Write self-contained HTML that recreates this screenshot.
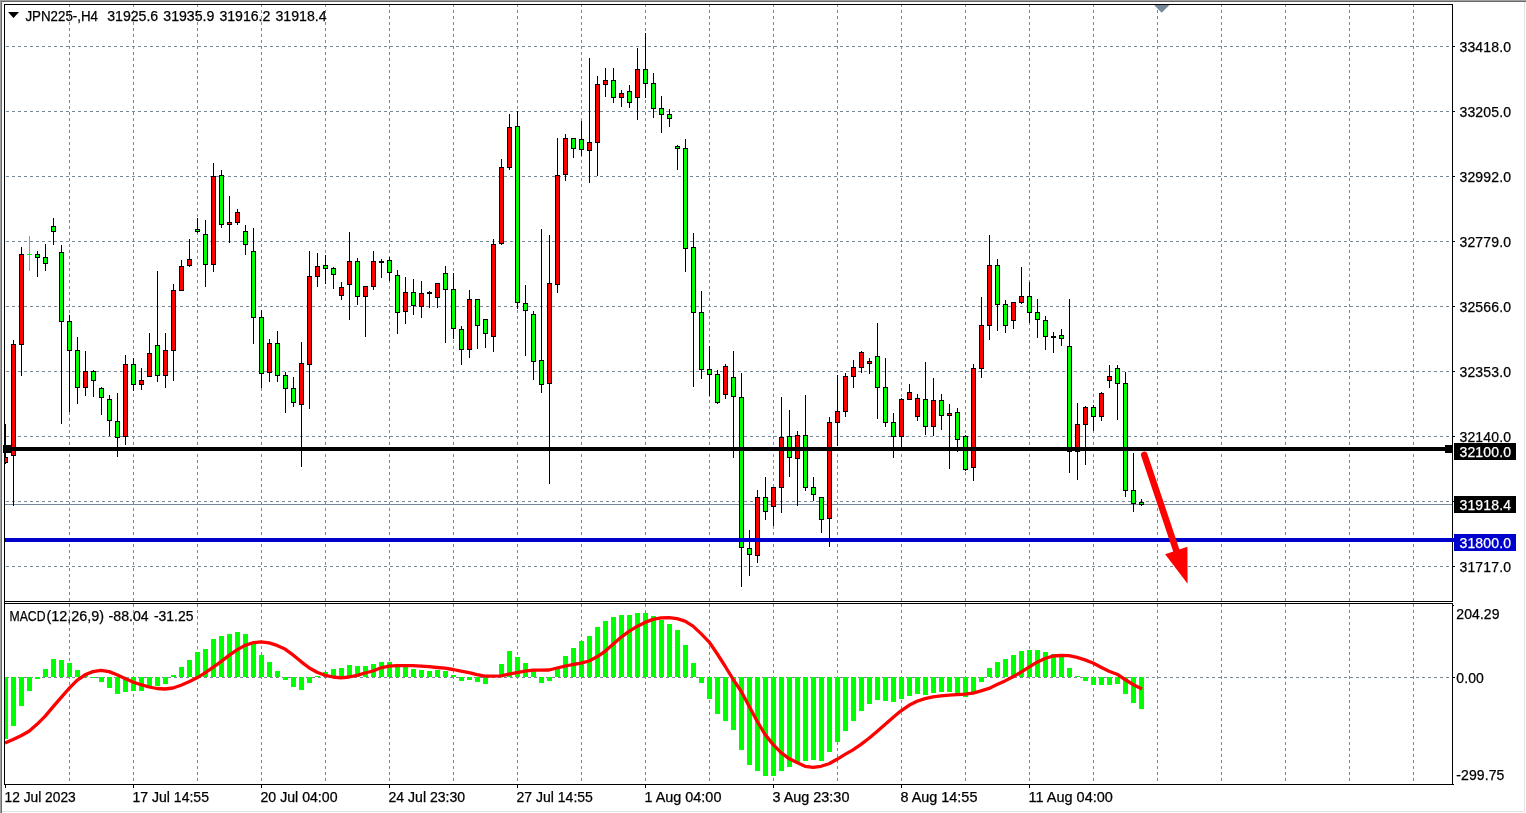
<!DOCTYPE html>
<html lang="en"><head><meta charset="utf-8"><title>JPN225-,H4</title>
<style>html,body{margin:0;padding:0;background:#fff;overflow:hidden}svg{display:block}text{font-family:"Liberation Sans",sans-serif;font-size:14px;fill:#000;stroke:#000;stroke-width:0.25px}</style></head><body>
<svg width="1526" height="813" viewBox="0 0 1526 813">
<rect width="1526" height="813" fill="#ffffff"/>
<g shape-rendering="crispEdges">
<rect x="0" y="0" width="1526" height="1" fill="#a0a0a0"/><rect x="0" y="1" width="1526" height="1" fill="#696969"/>
<rect x="0" y="0" width="1" height="813" fill="#a0a0a0"/><rect x="1" y="1" width="1" height="812" fill="#696969"/>
<rect x="1524" y="2" width="1" height="810" fill="#e3e3e3"/><rect x="2" y="811" width="1523" height="1" fill="#e3e3e3"/>
<g stroke="#778899" stroke-width="1" stroke-dasharray="3 3" fill="none">
<line x1="69.5" y1="4" x2="69.5" y2="784"/>
<line x1="133.5" y1="4" x2="133.5" y2="784"/>
<line x1="197.5" y1="4" x2="197.5" y2="784"/>
<line x1="261.5" y1="4" x2="261.5" y2="784"/>
<line x1="325.5" y1="4" x2="325.5" y2="784"/>
<line x1="389.5" y1="4" x2="389.5" y2="784"/>
<line x1="453.5" y1="4" x2="453.5" y2="784"/>
<line x1="517.5" y1="4" x2="517.5" y2="784"/>
<line x1="581.5" y1="4" x2="581.5" y2="784"/>
<line x1="645.5" y1="4" x2="645.5" y2="784"/>
<line x1="709.5" y1="4" x2="709.5" y2="784"/>
<line x1="773.5" y1="4" x2="773.5" y2="784"/>
<line x1="837.5" y1="4" x2="837.5" y2="784"/>
<line x1="901.5" y1="4" x2="901.5" y2="784"/>
<line x1="965.5" y1="4" x2="965.5" y2="784"/>
<line x1="1029.5" y1="4" x2="1029.5" y2="784"/>
<line x1="1093.5" y1="4" x2="1093.5" y2="784"/>
<line x1="1157.5" y1="4" x2="1157.5" y2="784"/>
<line x1="1221.5" y1="4" x2="1221.5" y2="784"/>
<line x1="1285.5" y1="4" x2="1285.5" y2="784"/>
<line x1="1349.5" y1="4" x2="1349.5" y2="784"/>
<line x1="1413.5" y1="4" x2="1413.5" y2="784"/>
<line x1="6" y1="46.5" x2="1452" y2="46.5"/>
<line x1="6" y1="111.5" x2="1452" y2="111.5"/>
<line x1="6" y1="176.5" x2="1452" y2="176.5"/>
<line x1="6" y1="241.5" x2="1452" y2="241.5"/>
<line x1="6" y1="306.5" x2="1452" y2="306.5"/>
<line x1="6" y1="371.5" x2="1452" y2="371.5"/>
<line x1="6" y1="436.5" x2="1452" y2="436.5"/>
<line x1="6" y1="501.5" x2="1452" y2="501.5"/>
<line x1="6" y1="566.5" x2="1452" y2="566.5"/>
<line x1="6" y1="677.5" x2="1452" y2="677.5"/>
</g>
<rect x="5" y="504" width="1447" height="1" fill="#778899"/>
<rect x="5" y="677" width="3" height="62" fill="#00ff00"/>
<rect x="11" y="677" width="5" height="49" fill="#00ff00"/>
<rect x="19" y="677" width="5" height="29" fill="#00ff00"/>
<rect x="27" y="677" width="5" height="14" fill="#00ff00"/>
<rect x="35" y="677" width="5" height="2" fill="#00ff00"/>
<rect x="43" y="669" width="5" height="8" fill="#00ff00"/>
<rect x="51" y="659" width="5" height="18" fill="#00ff00"/>
<rect x="59" y="660" width="5" height="17" fill="#00ff00"/>
<rect x="67" y="663" width="5" height="14" fill="#00ff00"/>
<rect x="75" y="670" width="5" height="7" fill="#00ff00"/>
<rect x="83" y="674" width="5" height="3" fill="#00ff00"/>
<rect x="91" y="677" width="5" height="1" fill="#00ff00"/>
<rect x="99" y="677" width="5" height="5" fill="#00ff00"/>
<rect x="107" y="677" width="5" height="11" fill="#00ff00"/>
<rect x="115" y="677" width="5" height="17" fill="#00ff00"/>
<rect x="123" y="677" width="5" height="15" fill="#00ff00"/>
<rect x="131" y="677" width="5" height="14" fill="#00ff00"/>
<rect x="139" y="677" width="5" height="14" fill="#00ff00"/>
<rect x="147" y="677" width="5" height="10" fill="#00ff00"/>
<rect x="155" y="677" width="5" height="9" fill="#00ff00"/>
<rect x="163" y="677" width="5" height="7" fill="#00ff00"/>
<rect x="171" y="675" width="5" height="2" fill="#00ff00"/>
<rect x="179" y="667" width="5" height="10" fill="#00ff00"/>
<rect x="187" y="660" width="5" height="17" fill="#00ff00"/>
<rect x="195" y="652" width="5" height="25" fill="#00ff00"/>
<rect x="203" y="649" width="5" height="28" fill="#00ff00"/>
<rect x="211" y="639" width="5" height="38" fill="#00ff00"/>
<rect x="219" y="636" width="5" height="41" fill="#00ff00"/>
<rect x="227" y="634" width="5" height="43" fill="#00ff00"/>
<rect x="235" y="632" width="5" height="45" fill="#00ff00"/>
<rect x="243" y="634" width="5" height="43" fill="#00ff00"/>
<rect x="251" y="643" width="5" height="34" fill="#00ff00"/>
<rect x="259" y="655" width="5" height="22" fill="#00ff00"/>
<rect x="267" y="662" width="5" height="15" fill="#00ff00"/>
<rect x="275" y="671" width="5" height="6" fill="#00ff00"/>
<rect x="283" y="677" width="5" height="3" fill="#00ff00"/>
<rect x="291" y="677" width="5" height="10" fill="#00ff00"/>
<rect x="299" y="677" width="5" height="13" fill="#00ff00"/>
<rect x="307" y="677" width="5" height="6" fill="#00ff00"/>
<rect x="315" y="676" width="5" height="1" fill="#00ff00"/>
<rect x="323" y="672" width="5" height="5" fill="#00ff00"/>
<rect x="331" y="669" width="5" height="8" fill="#00ff00"/>
<rect x="339" y="668" width="5" height="9" fill="#00ff00"/>
<rect x="347" y="665" width="5" height="12" fill="#00ff00"/>
<rect x="355" y="666" width="5" height="11" fill="#00ff00"/>
<rect x="363" y="666" width="5" height="11" fill="#00ff00"/>
<rect x="371" y="664" width="5" height="13" fill="#00ff00"/>
<rect x="379" y="662" width="5" height="15" fill="#00ff00"/>
<rect x="387" y="662" width="5" height="15" fill="#00ff00"/>
<rect x="395" y="666" width="5" height="11" fill="#00ff00"/>
<rect x="403" y="667" width="5" height="10" fill="#00ff00"/>
<rect x="411" y="669" width="5" height="8" fill="#00ff00"/>
<rect x="419" y="670" width="5" height="7" fill="#00ff00"/>
<rect x="427" y="671" width="5" height="6" fill="#00ff00"/>
<rect x="435" y="670" width="5" height="7" fill="#00ff00"/>
<rect x="443" y="671" width="5" height="6" fill="#00ff00"/>
<rect x="451" y="675" width="5" height="2" fill="#00ff00"/>
<rect x="459" y="677" width="5" height="4" fill="#00ff00"/>
<rect x="467" y="677" width="5" height="3" fill="#00ff00"/>
<rect x="475" y="677" width="5" height="5" fill="#00ff00"/>
<rect x="483" y="677" width="5" height="7" fill="#00ff00"/>
<rect x="499" y="664" width="5" height="13" fill="#00ff00"/>
<rect x="507" y="651" width="5" height="26" fill="#00ff00"/>
<rect x="515" y="657" width="5" height="20" fill="#00ff00"/>
<rect x="523" y="663" width="5" height="14" fill="#00ff00"/>
<rect x="531" y="671" width="5" height="6" fill="#00ff00"/>
<rect x="539" y="677" width="5" height="6" fill="#00ff00"/>
<rect x="547" y="677" width="5" height="4" fill="#00ff00"/>
<rect x="555" y="669" width="5" height="8" fill="#00ff00"/>
<rect x="563" y="656" width="5" height="21" fill="#00ff00"/>
<rect x="571" y="648" width="5" height="29" fill="#00ff00"/>
<rect x="579" y="641" width="5" height="36" fill="#00ff00"/>
<rect x="587" y="636" width="5" height="41" fill="#00ff00"/>
<rect x="595" y="627" width="5" height="50" fill="#00ff00"/>
<rect x="603" y="621" width="5" height="56" fill="#00ff00"/>
<rect x="611" y="617" width="5" height="60" fill="#00ff00"/>
<rect x="619" y="615" width="5" height="62" fill="#00ff00"/>
<rect x="627" y="615" width="5" height="62" fill="#00ff00"/>
<rect x="635" y="613" width="5" height="64" fill="#00ff00"/>
<rect x="643" y="613" width="5" height="64" fill="#00ff00"/>
<rect x="651" y="616" width="5" height="61" fill="#00ff00"/>
<rect x="659" y="620" width="5" height="57" fill="#00ff00"/>
<rect x="667" y="624" width="5" height="53" fill="#00ff00"/>
<rect x="675" y="630" width="5" height="47" fill="#00ff00"/>
<rect x="683" y="645" width="5" height="32" fill="#00ff00"/>
<rect x="691" y="663" width="5" height="14" fill="#00ff00"/>
<rect x="699" y="677" width="5" height="6" fill="#00ff00"/>
<rect x="707" y="677" width="5" height="22" fill="#00ff00"/>
<rect x="715" y="677" width="5" height="37" fill="#00ff00"/>
<rect x="723" y="677" width="5" height="44" fill="#00ff00"/>
<rect x="731" y="677" width="5" height="53" fill="#00ff00"/>
<rect x="739" y="677" width="5" height="73" fill="#00ff00"/>
<rect x="747" y="677" width="5" height="88" fill="#00ff00"/>
<rect x="755" y="677" width="5" height="94" fill="#00ff00"/>
<rect x="763" y="677" width="5" height="99" fill="#00ff00"/>
<rect x="771" y="677" width="5" height="99" fill="#00ff00"/>
<rect x="779" y="677" width="5" height="94" fill="#00ff00"/>
<rect x="787" y="677" width="5" height="90" fill="#00ff00"/>
<rect x="795" y="677" width="5" height="86" fill="#00ff00"/>
<rect x="803" y="677" width="5" height="84" fill="#00ff00"/>
<rect x="811" y="677" width="5" height="83" fill="#00ff00"/>
<rect x="819" y="677" width="5" height="84" fill="#00ff00"/>
<rect x="827" y="677" width="5" height="75" fill="#00ff00"/>
<rect x="835" y="677" width="5" height="65" fill="#00ff00"/>
<rect x="843" y="677" width="5" height="54" fill="#00ff00"/>
<rect x="851" y="677" width="5" height="44" fill="#00ff00"/>
<rect x="859" y="677" width="5" height="34" fill="#00ff00"/>
<rect x="867" y="677" width="5" height="27" fill="#00ff00"/>
<rect x="875" y="677" width="5" height="23" fill="#00ff00"/>
<rect x="883" y="677" width="5" height="24" fill="#00ff00"/>
<rect x="891" y="677" width="5" height="25" fill="#00ff00"/>
<rect x="899" y="677" width="5" height="22" fill="#00ff00"/>
<rect x="907" y="677" width="5" height="19" fill="#00ff00"/>
<rect x="915" y="677" width="5" height="17" fill="#00ff00"/>
<rect x="923" y="677" width="5" height="18" fill="#00ff00"/>
<rect x="931" y="677" width="5" height="16" fill="#00ff00"/>
<rect x="939" y="677" width="5" height="15" fill="#00ff00"/>
<rect x="947" y="677" width="5" height="15" fill="#00ff00"/>
<rect x="955" y="677" width="5" height="17" fill="#00ff00"/>
<rect x="963" y="677" width="5" height="20" fill="#00ff00"/>
<rect x="971" y="677" width="5" height="15" fill="#00ff00"/>
<rect x="979" y="677" width="5" height="5" fill="#00ff00"/>
<rect x="987" y="668" width="5" height="9" fill="#00ff00"/>
<rect x="995" y="662" width="5" height="15" fill="#00ff00"/>
<rect x="1003" y="659" width="5" height="18" fill="#00ff00"/>
<rect x="1011" y="655" width="5" height="22" fill="#00ff00"/>
<rect x="1019" y="651" width="5" height="26" fill="#00ff00"/>
<rect x="1027" y="650" width="5" height="27" fill="#00ff00"/>
<rect x="1035" y="650" width="5" height="27" fill="#00ff00"/>
<rect x="1043" y="652" width="5" height="25" fill="#00ff00"/>
<rect x="1051" y="654" width="5" height="23" fill="#00ff00"/>
<rect x="1059" y="656" width="5" height="21" fill="#00ff00"/>
<rect x="1067" y="668" width="5" height="9" fill="#00ff00"/>
<rect x="1075" y="676" width="5" height="1" fill="#00ff00"/>
<rect x="1083" y="677" width="5" height="4" fill="#00ff00"/>
<rect x="1091" y="677" width="5" height="8" fill="#00ff00"/>
<rect x="1099" y="677" width="5" height="8" fill="#00ff00"/>
<rect x="1107" y="677" width="5" height="8" fill="#00ff00"/>
<rect x="1115" y="677" width="5" height="7" fill="#00ff00"/>
<rect x="1123" y="677" width="5" height="17" fill="#00ff00"/>
<rect x="1131" y="677" width="5" height="26" fill="#00ff00"/>
<rect x="1139" y="677" width="5" height="32" fill="#00ff00"/>
<rect x="5" y="424" width="1" height="40" fill="#000"/>
<rect x="5" y="457" width="3" height="6" fill="#000"/>
<rect x="5" y="458" width="2" height="4" fill="#ff0000"/>
<rect x="13" y="340" width="1" height="166" fill="#000"/>
<rect x="11" y="344" width="5" height="112" fill="#000"/>
<rect x="12" y="345" width="3" height="110" fill="#ff0000"/>
<rect x="21" y="247" width="1" height="129" fill="#000"/>
<rect x="19" y="254" width="5" height="91" fill="#000"/>
<rect x="20" y="255" width="3" height="89" fill="#ff0000"/>
<rect x="37" y="251" width="1" height="26" fill="#000"/>
<rect x="35" y="254" width="5" height="4" fill="#000"/>
<rect x="36" y="255" width="3" height="2" fill="#00ff00"/>
<rect x="45" y="244" width="1" height="27" fill="#000"/>
<rect x="43" y="257" width="5" height="7" fill="#000"/>
<rect x="44" y="258" width="3" height="5" fill="#00ff00"/>
<rect x="53" y="218" width="1" height="27" fill="#000"/>
<rect x="51" y="226" width="5" height="6" fill="#000"/>
<rect x="52" y="227" width="3" height="4" fill="#00ff00"/>
<rect x="61" y="245" width="1" height="179" fill="#000"/>
<rect x="59" y="252" width="5" height="70" fill="#000"/>
<rect x="60" y="253" width="3" height="68" fill="#00ff00"/>
<rect x="69" y="315" width="1" height="97" fill="#000"/>
<rect x="67" y="321" width="5" height="30" fill="#000"/>
<rect x="68" y="322" width="3" height="28" fill="#00ff00"/>
<rect x="77" y="337" width="1" height="67" fill="#000"/>
<rect x="75" y="350" width="5" height="38" fill="#000"/>
<rect x="76" y="351" width="3" height="36" fill="#00ff00"/>
<rect x="85" y="351" width="1" height="45" fill="#000"/>
<rect x="83" y="371" width="5" height="17" fill="#000"/>
<rect x="84" y="372" width="3" height="15" fill="#ff0000"/>
<rect x="93" y="370" width="1" height="27" fill="#000"/>
<rect x="91" y="371" width="5" height="10" fill="#000"/>
<rect x="92" y="372" width="3" height="8" fill="#00ff00"/>
<rect x="101" y="387" width="1" height="28" fill="#000"/>
<rect x="99" y="388" width="5" height="10" fill="#000"/>
<rect x="100" y="389" width="3" height="8" fill="#00ff00"/>
<rect x="109" y="395" width="1" height="41" fill="#000"/>
<rect x="107" y="399" width="5" height="22" fill="#000"/>
<rect x="108" y="400" width="3" height="20" fill="#00ff00"/>
<rect x="117" y="393" width="1" height="64" fill="#000"/>
<rect x="115" y="421" width="5" height="17" fill="#000"/>
<rect x="116" y="422" width="3" height="15" fill="#00ff00"/>
<rect x="125" y="355" width="1" height="90" fill="#000"/>
<rect x="123" y="364" width="5" height="73" fill="#000"/>
<rect x="124" y="365" width="3" height="71" fill="#ff0000"/>
<rect x="133" y="358" width="1" height="33" fill="#000"/>
<rect x="131" y="364" width="5" height="21" fill="#000"/>
<rect x="132" y="365" width="3" height="19" fill="#00ff00"/>
<rect x="141" y="368" width="1" height="22" fill="#000"/>
<rect x="139" y="380" width="5" height="5" fill="#000"/>
<rect x="140" y="381" width="3" height="3" fill="#ff0000"/>
<rect x="149" y="333" width="1" height="44" fill="#000"/>
<rect x="147" y="353" width="5" height="24" fill="#000"/>
<rect x="148" y="354" width="3" height="22" fill="#ff0000"/>
<rect x="157" y="271" width="1" height="111" fill="#000"/>
<rect x="155" y="345" width="5" height="31" fill="#000"/>
<rect x="156" y="346" width="3" height="29" fill="#00ff00"/>
<rect x="165" y="333" width="1" height="55" fill="#000"/>
<rect x="163" y="350" width="5" height="26" fill="#000"/>
<rect x="164" y="351" width="3" height="24" fill="#ff0000"/>
<rect x="173" y="284" width="1" height="97" fill="#000"/>
<rect x="171" y="290" width="5" height="61" fill="#000"/>
<rect x="172" y="291" width="3" height="59" fill="#ff0000"/>
<rect x="181" y="260" width="1" height="31" fill="#000"/>
<rect x="179" y="266" width="5" height="25" fill="#000"/>
<rect x="180" y="267" width="3" height="23" fill="#ff0000"/>
<rect x="189" y="239" width="1" height="28" fill="#000"/>
<rect x="187" y="259" width="5" height="7" fill="#000"/>
<rect x="188" y="260" width="3" height="5" fill="#ff0000"/>
<rect x="197" y="218" width="1" height="15" fill="#000"/>
<rect x="195" y="229" width="5" height="3" fill="#000"/>
<rect x="196" y="230" width="3" height="1" fill="#00ff00"/>
<rect x="205" y="220" width="1" height="67" fill="#000"/>
<rect x="203" y="234" width="5" height="31" fill="#000"/>
<rect x="204" y="235" width="3" height="29" fill="#00ff00"/>
<rect x="213" y="163" width="1" height="109" fill="#000"/>
<rect x="211" y="176" width="5" height="89" fill="#000"/>
<rect x="212" y="177" width="3" height="87" fill="#ff0000"/>
<rect x="221" y="170" width="1" height="58" fill="#000"/>
<rect x="219" y="175" width="5" height="50" fill="#000"/>
<rect x="220" y="176" width="3" height="48" fill="#00ff00"/>
<rect x="229" y="196" width="1" height="47" fill="#000"/>
<rect x="227" y="222" width="5" height="3" fill="#000"/>
<rect x="228" y="223" width="3" height="1" fill="#ff0000"/>
<rect x="237" y="209" width="1" height="16" fill="#000"/>
<rect x="235" y="212" width="5" height="11" fill="#000"/>
<rect x="236" y="213" width="3" height="9" fill="#ff0000"/>
<rect x="245" y="225" width="1" height="30" fill="#000"/>
<rect x="243" y="231" width="5" height="14" fill="#000"/>
<rect x="244" y="232" width="3" height="12" fill="#00ff00"/>
<rect x="253" y="228" width="1" height="116" fill="#000"/>
<rect x="251" y="251" width="5" height="67" fill="#000"/>
<rect x="252" y="252" width="3" height="65" fill="#00ff00"/>
<rect x="261" y="310" width="1" height="78" fill="#000"/>
<rect x="259" y="317" width="5" height="57" fill="#000"/>
<rect x="260" y="318" width="3" height="55" fill="#00ff00"/>
<rect x="269" y="339" width="1" height="43" fill="#000"/>
<rect x="267" y="343" width="5" height="30" fill="#000"/>
<rect x="268" y="344" width="3" height="28" fill="#ff0000"/>
<rect x="277" y="331" width="1" height="51" fill="#000"/>
<rect x="275" y="343" width="5" height="33" fill="#000"/>
<rect x="276" y="344" width="3" height="31" fill="#00ff00"/>
<rect x="285" y="372" width="1" height="41" fill="#000"/>
<rect x="283" y="375" width="5" height="14" fill="#000"/>
<rect x="284" y="376" width="3" height="12" fill="#00ff00"/>
<rect x="293" y="377" width="1" height="30" fill="#000"/>
<rect x="291" y="388" width="5" height="15" fill="#000"/>
<rect x="292" y="389" width="3" height="13" fill="#00ff00"/>
<rect x="301" y="342" width="1" height="125" fill="#000"/>
<rect x="299" y="363" width="5" height="42" fill="#000"/>
<rect x="300" y="364" width="3" height="40" fill="#ff0000"/>
<rect x="309" y="251" width="1" height="158" fill="#000"/>
<rect x="307" y="276" width="5" height="89" fill="#000"/>
<rect x="308" y="277" width="3" height="87" fill="#ff0000"/>
<rect x="317" y="253" width="1" height="34" fill="#000"/>
<rect x="315" y="266" width="5" height="11" fill="#000"/>
<rect x="316" y="267" width="3" height="9" fill="#ff0000"/>
<rect x="325" y="255" width="1" height="29" fill="#000"/>
<rect x="323" y="265" width="5" height="4" fill="#000"/>
<rect x="324" y="266" width="3" height="2" fill="#00ff00"/>
<rect x="333" y="267" width="1" height="22" fill="#000"/>
<rect x="331" y="268" width="5" height="7" fill="#000"/>
<rect x="332" y="269" width="3" height="5" fill="#00ff00"/>
<rect x="341" y="282" width="1" height="18" fill="#000"/>
<rect x="339" y="287" width="5" height="9" fill="#000"/>
<rect x="340" y="288" width="3" height="7" fill="#ff0000"/>
<rect x="349" y="232" width="1" height="88" fill="#000"/>
<rect x="347" y="261" width="5" height="24" fill="#000"/>
<rect x="348" y="262" width="3" height="22" fill="#ff0000"/>
<rect x="357" y="258" width="1" height="47" fill="#000"/>
<rect x="355" y="261" width="5" height="36" fill="#000"/>
<rect x="356" y="262" width="3" height="34" fill="#00ff00"/>
<rect x="365" y="286" width="1" height="51" fill="#000"/>
<rect x="363" y="286" width="5" height="11" fill="#000"/>
<rect x="364" y="287" width="3" height="9" fill="#ff0000"/>
<rect x="373" y="251" width="1" height="39" fill="#000"/>
<rect x="371" y="261" width="5" height="26" fill="#000"/>
<rect x="372" y="262" width="3" height="24" fill="#ff0000"/>
<rect x="389" y="257" width="1" height="24" fill="#000"/>
<rect x="387" y="260" width="5" height="13" fill="#000"/>
<rect x="388" y="261" width="3" height="11" fill="#00ff00"/>
<rect x="397" y="270" width="1" height="64" fill="#000"/>
<rect x="395" y="275" width="5" height="38" fill="#000"/>
<rect x="396" y="276" width="3" height="36" fill="#00ff00"/>
<rect x="405" y="277" width="1" height="47" fill="#000"/>
<rect x="403" y="292" width="5" height="20" fill="#000"/>
<rect x="404" y="293" width="3" height="18" fill="#ff0000"/>
<rect x="413" y="279" width="1" height="36" fill="#000"/>
<rect x="411" y="292" width="5" height="14" fill="#000"/>
<rect x="412" y="293" width="3" height="12" fill="#00ff00"/>
<rect x="421" y="281" width="1" height="37" fill="#000"/>
<rect x="419" y="293" width="5" height="14" fill="#000"/>
<rect x="420" y="294" width="3" height="12" fill="#ff0000"/>
<rect x="437" y="283" width="1" height="25" fill="#000"/>
<rect x="435" y="283" width="5" height="15" fill="#000"/>
<rect x="436" y="284" width="3" height="13" fill="#ff0000"/>
<rect x="445" y="266" width="1" height="77" fill="#000"/>
<rect x="443" y="273" width="5" height="17" fill="#000"/>
<rect x="444" y="274" width="3" height="15" fill="#00ff00"/>
<rect x="453" y="273" width="1" height="66" fill="#000"/>
<rect x="451" y="289" width="5" height="40" fill="#000"/>
<rect x="452" y="290" width="3" height="38" fill="#00ff00"/>
<rect x="461" y="326" width="1" height="39" fill="#000"/>
<rect x="459" y="329" width="5" height="21" fill="#000"/>
<rect x="460" y="330" width="3" height="19" fill="#00ff00"/>
<rect x="469" y="290" width="1" height="68" fill="#000"/>
<rect x="467" y="299" width="5" height="51" fill="#000"/>
<rect x="468" y="300" width="3" height="49" fill="#ff0000"/>
<rect x="477" y="299" width="1" height="50" fill="#000"/>
<rect x="475" y="299" width="5" height="27" fill="#000"/>
<rect x="476" y="300" width="3" height="25" fill="#00ff00"/>
<rect x="485" y="319" width="1" height="29" fill="#000"/>
<rect x="483" y="319" width="5" height="15" fill="#000"/>
<rect x="484" y="320" width="3" height="13" fill="#00ff00"/>
<rect x="493" y="239" width="1" height="113" fill="#000"/>
<rect x="491" y="244" width="5" height="93" fill="#000"/>
<rect x="492" y="245" width="3" height="91" fill="#ff0000"/>
<rect x="501" y="159" width="1" height="86" fill="#000"/>
<rect x="499" y="167" width="5" height="77" fill="#000"/>
<rect x="500" y="168" width="3" height="75" fill="#ff0000"/>
<rect x="509" y="114" width="1" height="56" fill="#000"/>
<rect x="507" y="127" width="5" height="41" fill="#000"/>
<rect x="508" y="128" width="3" height="39" fill="#ff0000"/>
<rect x="517" y="111" width="1" height="198" fill="#000"/>
<rect x="515" y="126" width="5" height="177" fill="#000"/>
<rect x="516" y="127" width="3" height="175" fill="#00ff00"/>
<rect x="525" y="285" width="1" height="71" fill="#000"/>
<rect x="523" y="303" width="5" height="8" fill="#000"/>
<rect x="524" y="304" width="3" height="6" fill="#00ff00"/>
<rect x="533" y="311" width="1" height="69" fill="#000"/>
<rect x="531" y="314" width="5" height="48" fill="#000"/>
<rect x="532" y="315" width="3" height="46" fill="#00ff00"/>
<rect x="541" y="229" width="1" height="164" fill="#000"/>
<rect x="539" y="360" width="5" height="25" fill="#000"/>
<rect x="540" y="361" width="3" height="23" fill="#00ff00"/>
<rect x="549" y="235" width="1" height="249" fill="#000"/>
<rect x="547" y="283" width="5" height="101" fill="#000"/>
<rect x="548" y="284" width="3" height="99" fill="#ff0000"/>
<rect x="557" y="138" width="1" height="155" fill="#000"/>
<rect x="555" y="175" width="5" height="110" fill="#000"/>
<rect x="556" y="176" width="3" height="108" fill="#ff0000"/>
<rect x="565" y="134" width="1" height="47" fill="#000"/>
<rect x="563" y="138" width="5" height="37" fill="#000"/>
<rect x="564" y="139" width="3" height="35" fill="#ff0000"/>
<rect x="573" y="138" width="1" height="20" fill="#000"/>
<rect x="571" y="138" width="5" height="11" fill="#000"/>
<rect x="572" y="139" width="3" height="9" fill="#00ff00"/>
<rect x="581" y="121" width="1" height="35" fill="#000"/>
<rect x="579" y="139" width="5" height="11" fill="#000"/>
<rect x="580" y="140" width="3" height="9" fill="#00ff00"/>
<rect x="589" y="58" width="1" height="125" fill="#000"/>
<rect x="587" y="142" width="5" height="9" fill="#000"/>
<rect x="588" y="143" width="3" height="7" fill="#ff0000"/>
<rect x="597" y="76" width="1" height="100" fill="#000"/>
<rect x="595" y="84" width="5" height="59" fill="#000"/>
<rect x="596" y="85" width="3" height="57" fill="#ff0000"/>
<rect x="605" y="68" width="1" height="29" fill="#000"/>
<rect x="603" y="80" width="5" height="5" fill="#000"/>
<rect x="604" y="81" width="3" height="3" fill="#ff0000"/>
<rect x="613" y="68" width="1" height="35" fill="#000"/>
<rect x="611" y="80" width="5" height="18" fill="#000"/>
<rect x="612" y="81" width="3" height="16" fill="#00ff00"/>
<rect x="621" y="90" width="1" height="17" fill="#000"/>
<rect x="619" y="93" width="5" height="5" fill="#000"/>
<rect x="620" y="94" width="3" height="3" fill="#ff0000"/>
<rect x="629" y="85" width="1" height="23" fill="#000"/>
<rect x="627" y="91" width="5" height="12" fill="#000"/>
<rect x="628" y="92" width="3" height="10" fill="#00ff00"/>
<rect x="637" y="48" width="1" height="72" fill="#000"/>
<rect x="635" y="69" width="5" height="29" fill="#000"/>
<rect x="636" y="70" width="3" height="27" fill="#ff0000"/>
<rect x="645" y="33" width="1" height="65" fill="#000"/>
<rect x="643" y="69" width="5" height="15" fill="#000"/>
<rect x="644" y="70" width="3" height="13" fill="#00ff00"/>
<rect x="653" y="73" width="1" height="45" fill="#000"/>
<rect x="651" y="83" width="5" height="26" fill="#000"/>
<rect x="652" y="84" width="3" height="24" fill="#00ff00"/>
<rect x="661" y="96" width="1" height="37" fill="#000"/>
<rect x="659" y="108" width="5" height="7" fill="#000"/>
<rect x="660" y="109" width="3" height="5" fill="#00ff00"/>
<rect x="669" y="109" width="1" height="18" fill="#000"/>
<rect x="667" y="114" width="5" height="5" fill="#000"/>
<rect x="668" y="115" width="3" height="3" fill="#00ff00"/>
<rect x="677" y="145" width="1" height="25" fill="#000"/>
<rect x="675" y="146" width="5" height="3" fill="#000"/>
<rect x="676" y="147" width="3" height="1" fill="#00ff00"/>
<rect x="685" y="139" width="1" height="133" fill="#000"/>
<rect x="683" y="148" width="5" height="101" fill="#000"/>
<rect x="684" y="149" width="3" height="99" fill="#00ff00"/>
<rect x="693" y="233" width="1" height="154" fill="#000"/>
<rect x="691" y="247" width="5" height="66" fill="#000"/>
<rect x="692" y="248" width="3" height="64" fill="#00ff00"/>
<rect x="701" y="291" width="1" height="88" fill="#000"/>
<rect x="699" y="312" width="5" height="58" fill="#000"/>
<rect x="700" y="313" width="3" height="56" fill="#00ff00"/>
<rect x="709" y="346" width="1" height="50" fill="#000"/>
<rect x="707" y="369" width="5" height="6" fill="#000"/>
<rect x="708" y="370" width="3" height="4" fill="#00ff00"/>
<rect x="717" y="370" width="1" height="34" fill="#000"/>
<rect x="715" y="374" width="5" height="29" fill="#000"/>
<rect x="716" y="375" width="3" height="27" fill="#00ff00"/>
<rect x="725" y="364" width="1" height="35" fill="#000"/>
<rect x="723" y="366" width="5" height="29" fill="#000"/>
<rect x="724" y="367" width="3" height="27" fill="#ff0000"/>
<rect x="733" y="351" width="1" height="107" fill="#000"/>
<rect x="731" y="377" width="5" height="20" fill="#000"/>
<rect x="732" y="378" width="3" height="18" fill="#00ff00"/>
<rect x="741" y="373" width="1" height="214" fill="#000"/>
<rect x="739" y="397" width="5" height="151" fill="#000"/>
<rect x="740" y="398" width="3" height="149" fill="#00ff00"/>
<rect x="749" y="530" width="1" height="46" fill="#000"/>
<rect x="747" y="548" width="5" height="7" fill="#000"/>
<rect x="748" y="549" width="3" height="5" fill="#00ff00"/>
<rect x="757" y="490" width="1" height="73" fill="#000"/>
<rect x="755" y="497" width="5" height="59" fill="#000"/>
<rect x="756" y="498" width="3" height="57" fill="#ff0000"/>
<rect x="765" y="477" width="1" height="43" fill="#000"/>
<rect x="763" y="497" width="5" height="15" fill="#000"/>
<rect x="764" y="498" width="3" height="13" fill="#00ff00"/>
<rect x="773" y="487" width="1" height="39" fill="#000"/>
<rect x="771" y="487" width="5" height="20" fill="#000"/>
<rect x="772" y="488" width="3" height="18" fill="#ff0000"/>
<rect x="781" y="397" width="1" height="116" fill="#000"/>
<rect x="779" y="437" width="5" height="51" fill="#000"/>
<rect x="780" y="438" width="3" height="49" fill="#ff0000"/>
<rect x="789" y="410" width="1" height="67" fill="#000"/>
<rect x="787" y="436" width="5" height="22" fill="#000"/>
<rect x="788" y="437" width="3" height="20" fill="#00ff00"/>
<rect x="797" y="431" width="1" height="75" fill="#000"/>
<rect x="795" y="435" width="5" height="24" fill="#000"/>
<rect x="796" y="436" width="3" height="22" fill="#ff0000"/>
<rect x="805" y="395" width="1" height="96" fill="#000"/>
<rect x="803" y="435" width="5" height="53" fill="#000"/>
<rect x="804" y="436" width="3" height="51" fill="#00ff00"/>
<rect x="813" y="477" width="1" height="24" fill="#000"/>
<rect x="811" y="487" width="5" height="8" fill="#000"/>
<rect x="812" y="488" width="3" height="6" fill="#00ff00"/>
<rect x="821" y="497" width="1" height="36" fill="#000"/>
<rect x="819" y="497" width="5" height="23" fill="#000"/>
<rect x="820" y="498" width="3" height="21" fill="#00ff00"/>
<rect x="829" y="417" width="1" height="130" fill="#000"/>
<rect x="827" y="422" width="5" height="97" fill="#000"/>
<rect x="828" y="423" width="3" height="95" fill="#ff0000"/>
<rect x="837" y="375" width="1" height="71" fill="#000"/>
<rect x="835" y="411" width="5" height="12" fill="#000"/>
<rect x="836" y="412" width="3" height="10" fill="#ff0000"/>
<rect x="845" y="373" width="1" height="44" fill="#000"/>
<rect x="843" y="376" width="5" height="36" fill="#000"/>
<rect x="844" y="377" width="3" height="34" fill="#ff0000"/>
<rect x="853" y="360" width="1" height="28" fill="#000"/>
<rect x="851" y="367" width="5" height="10" fill="#000"/>
<rect x="852" y="368" width="3" height="8" fill="#ff0000"/>
<rect x="861" y="351" width="1" height="22" fill="#000"/>
<rect x="859" y="352" width="5" height="16" fill="#000"/>
<rect x="860" y="353" width="3" height="14" fill="#ff0000"/>
<rect x="869" y="358" width="1" height="16" fill="#000"/>
<rect x="867" y="361" width="5" height="3" fill="#000"/>
<rect x="868" y="362" width="3" height="1" fill="#ff0000"/>
<rect x="877" y="323" width="1" height="96" fill="#000"/>
<rect x="875" y="356" width="5" height="32" fill="#000"/>
<rect x="876" y="357" width="3" height="30" fill="#00ff00"/>
<rect x="885" y="358" width="1" height="69" fill="#000"/>
<rect x="883" y="387" width="5" height="36" fill="#000"/>
<rect x="884" y="388" width="3" height="34" fill="#00ff00"/>
<rect x="893" y="413" width="1" height="45" fill="#000"/>
<rect x="891" y="422" width="5" height="15" fill="#000"/>
<rect x="892" y="423" width="3" height="13" fill="#00ff00"/>
<rect x="901" y="398" width="1" height="49" fill="#000"/>
<rect x="899" y="399" width="5" height="38" fill="#000"/>
<rect x="900" y="400" width="3" height="36" fill="#ff0000"/>
<rect x="909" y="384" width="1" height="16" fill="#000"/>
<rect x="907" y="392" width="5" height="8" fill="#000"/>
<rect x="908" y="393" width="3" height="6" fill="#ff0000"/>
<rect x="917" y="394" width="1" height="27" fill="#000"/>
<rect x="915" y="398" width="5" height="19" fill="#000"/>
<rect x="916" y="399" width="3" height="17" fill="#ff0000"/>
<rect x="925" y="362" width="1" height="73" fill="#000"/>
<rect x="923" y="399" width="5" height="28" fill="#000"/>
<rect x="924" y="400" width="3" height="26" fill="#00ff00"/>
<rect x="933" y="378" width="1" height="58" fill="#000"/>
<rect x="931" y="400" width="5" height="27" fill="#000"/>
<rect x="932" y="401" width="3" height="25" fill="#ff0000"/>
<rect x="941" y="394" width="1" height="36" fill="#000"/>
<rect x="939" y="400" width="5" height="16" fill="#000"/>
<rect x="940" y="401" width="3" height="14" fill="#00ff00"/>
<rect x="949" y="404" width="1" height="65" fill="#000"/>
<rect x="947" y="413" width="5" height="3" fill="#000"/>
<rect x="948" y="414" width="3" height="1" fill="#ff0000"/>
<rect x="957" y="408" width="1" height="44" fill="#000"/>
<rect x="955" y="412" width="5" height="28" fill="#000"/>
<rect x="956" y="413" width="3" height="26" fill="#00ff00"/>
<rect x="965" y="435" width="1" height="36" fill="#000"/>
<rect x="963" y="436" width="5" height="34" fill="#000"/>
<rect x="964" y="437" width="3" height="32" fill="#00ff00"/>
<rect x="973" y="364" width="1" height="117" fill="#000"/>
<rect x="971" y="368" width="5" height="100" fill="#000"/>
<rect x="972" y="369" width="3" height="98" fill="#ff0000"/>
<rect x="981" y="297" width="1" height="81" fill="#000"/>
<rect x="979" y="325" width="5" height="44" fill="#000"/>
<rect x="980" y="326" width="3" height="42" fill="#ff0000"/>
<rect x="989" y="235" width="1" height="105" fill="#000"/>
<rect x="987" y="265" width="5" height="61" fill="#000"/>
<rect x="988" y="266" width="3" height="59" fill="#ff0000"/>
<rect x="997" y="259" width="1" height="72" fill="#000"/>
<rect x="995" y="265" width="5" height="40" fill="#000"/>
<rect x="996" y="266" width="3" height="38" fill="#00ff00"/>
<rect x="1005" y="300" width="1" height="33" fill="#000"/>
<rect x="1003" y="304" width="5" height="22" fill="#000"/>
<rect x="1004" y="305" width="3" height="20" fill="#00ff00"/>
<rect x="1013" y="302" width="1" height="27" fill="#000"/>
<rect x="1011" y="302" width="5" height="19" fill="#000"/>
<rect x="1012" y="303" width="3" height="17" fill="#ff0000"/>
<rect x="1021" y="267" width="1" height="37" fill="#000"/>
<rect x="1019" y="296" width="5" height="7" fill="#000"/>
<rect x="1020" y="297" width="3" height="5" fill="#ff0000"/>
<rect x="1029" y="282" width="1" height="41" fill="#000"/>
<rect x="1027" y="296" width="5" height="17" fill="#000"/>
<rect x="1028" y="297" width="3" height="15" fill="#00ff00"/>
<rect x="1037" y="299" width="1" height="39" fill="#000"/>
<rect x="1035" y="312" width="5" height="8" fill="#000"/>
<rect x="1036" y="313" width="3" height="6" fill="#00ff00"/>
<rect x="1045" y="316" width="1" height="34" fill="#000"/>
<rect x="1043" y="320" width="5" height="17" fill="#000"/>
<rect x="1044" y="321" width="3" height="15" fill="#00ff00"/>
<rect x="1061" y="329" width="1" height="17" fill="#000"/>
<rect x="1059" y="335" width="5" height="4" fill="#000"/>
<rect x="1060" y="336" width="3" height="2" fill="#00ff00"/>
<rect x="1069" y="299" width="1" height="174" fill="#000"/>
<rect x="1067" y="346" width="5" height="106" fill="#000"/>
<rect x="1068" y="347" width="3" height="104" fill="#00ff00"/>
<rect x="1077" y="403" width="1" height="77" fill="#000"/>
<rect x="1075" y="424" width="5" height="28" fill="#000"/>
<rect x="1076" y="425" width="3" height="26" fill="#ff0000"/>
<rect x="1085" y="406" width="1" height="59" fill="#000"/>
<rect x="1083" y="407" width="5" height="18" fill="#000"/>
<rect x="1084" y="408" width="3" height="16" fill="#ff0000"/>
<rect x="1093" y="405" width="1" height="26" fill="#000"/>
<rect x="1091" y="407" width="5" height="10" fill="#000"/>
<rect x="1092" y="408" width="3" height="8" fill="#00ff00"/>
<rect x="1101" y="392" width="1" height="29" fill="#000"/>
<rect x="1099" y="393" width="5" height="24" fill="#000"/>
<rect x="1100" y="394" width="3" height="22" fill="#ff0000"/>
<rect x="1109" y="365" width="1" height="23" fill="#000"/>
<rect x="1107" y="376" width="5" height="5" fill="#000"/>
<rect x="1108" y="377" width="3" height="3" fill="#ff0000"/>
<rect x="1117" y="365" width="1" height="55" fill="#000"/>
<rect x="1115" y="368" width="5" height="16" fill="#000"/>
<rect x="1116" y="369" width="3" height="14" fill="#00ff00"/>
<rect x="1125" y="372" width="1" height="125" fill="#000"/>
<rect x="1123" y="383" width="5" height="108" fill="#000"/>
<rect x="1124" y="384" width="3" height="106" fill="#00ff00"/>
<rect x="1133" y="453" width="1" height="59" fill="#000"/>
<rect x="1131" y="490" width="5" height="14" fill="#000"/>
<rect x="1132" y="491" width="3" height="12" fill="#00ff00"/>
<rect x="1141" y="499" width="1" height="7" fill="#000"/>
<rect x="1139" y="502" width="5" height="3" fill="#000"/>
<rect x="1140" y="503" width="3" height="1" fill="#00ff00"/>
<rect x="381" y="259" width="1" height="19" fill="#000"/>
<rect x="379" y="261" width="5" height="2" fill="#000"/>
<rect x="429" y="291" width="1" height="17" fill="#000"/>
<rect x="427" y="292" width="5" height="2" fill="#000"/>
<rect x="1053" y="332" width="1" height="21" fill="#000"/>
<rect x="1051" y="336" width="5" height="2" fill="#000"/>
<rect x="29" y="236" width="1" height="35" fill="#00ff00"/><rect x="27" y="254" width="5" height="1" fill="#00ff00"/>
<rect x="5" y="447" width="1447" height="4" fill="#000"/>
<rect x="3" y="445" width="8" height="8" fill="#000"/><rect x="1445" y="445" width="8" height="8" fill="#000"/>
<rect x="5" y="538" width="1449" height="4" fill="#0000cd"/>
</g>
<polyline points="5,743.0 13,739.6 21,735.8 29,731.3 37,724.3 45,716.4 53,706.9 61,697.7 69,688.5 77,680.3 85,674.8 93,671.6 101,670.3 109,671.6 117,674.8 125,678.5 133,682.0 141,684.7 149,687.0 157,688.5 165,689.0 173,688.0 181,685.2 189,681.8 197,677.8 205,672.8 213,667.3 221,661.6 229,655.4 237,649.9 245,645.4 253,642.7 261,641.9 269,642.9 277,645.4 285,649.1 293,654.9 301,661.6 309,667.8 317,672.3 325,675.3 333,677.0 341,677.8 349,677.0 357,675.3 365,673.0 373,671.0 381,667.8 389,666.2 397,665.7 405,665.7 413,665.7 421,666.2 429,666.7 437,667.5 445,668.2 453,669.5 461,671.2 469,672.7 477,674.7 485,676.2 493,676.2 501,675.9 509,674.2 517,672.7 525,671.2 533,670.2 541,670.2 549,670.0 557,668.0 565,666.2 573,664.5 581,663.2 589,661.0 597,656.8 605,651.3 613,644.3 621,637.3 629,631.4 637,626.4 645,622.4 653,619.4 661,617.9 669,617.7 677,618.7 685,621.1 693,626.1 701,633.6 709,641.8 717,653.5 725,666.0 733,679.2 741,691.0 749,706.0 757,721.0 765,734.4 773,744.4 781,752.6 789,758.6 797,762.6 805,766.3 813,767.3 821,766.3 829,763.8 837,759.3 845,754.4 853,749.9 861,744.4 869,738.2 877,731.5 885,724.5 893,717.5 901,710.8 909,705.3 917,701.3 925,698.6 933,696.8 941,695.8 949,695.1 957,694.6 965,694.1 973,693.1 981,690.9 989,688.4 997,684.6 1005,680.9 1013,676.7 1021,672.2 1029,667.2 1037,662.2 1045,658.5 1053,656.0 1061,655.5 1069,655.7 1077,657.4 1085,659.9 1093,663.0 1101,667.3 1109,671.3 1117,674.2 1125,679.5 1133,684.5 1141,688.5 1142,689.0" fill="none" stroke="#ff0000" stroke-width="3.3" stroke-linejoin="round" stroke-linecap="butt"/>
<line x1="1144.3" y1="455" x2="1176.5" y2="551" stroke="#ff0000" stroke-width="6.6" stroke-linecap="round"/>
<polygon points="1165.1,554.3 1187.4,546.8 1187.6,583.8" fill="#ff0000"/>
<g shape-rendering="crispEdges" fill="#000">
<rect x="4" y="4" width="1449" height="1"/>
<rect x="4" y="4" width="1" height="781"/>
<rect x="1452" y="4" width="1" height="534"/><rect x="1452" y="542" width="1" height="243"/>
<rect x="4" y="601" width="1449" height="1"/><rect x="4" y="602" width="1449" height="1" fill="#fff"/><rect x="4" y="603" width="1449" height="1"/>
<rect x="4" y="602" width="1" height="1"/>
<rect x="4" y="784" width="1450" height="1"/>
<rect x="1453" y="46" width="2" height="1"/>
<rect x="1453" y="111" width="2" height="1"/>
<rect x="1453" y="176" width="2" height="1"/>
<rect x="1453" y="241" width="2" height="1"/>
<rect x="1453" y="306" width="2" height="1"/>
<rect x="1453" y="371" width="2" height="1"/>
<rect x="1453" y="436" width="2" height="1"/>
<rect x="1453" y="501" width="2" height="1"/>
<rect x="1453" y="566" width="2" height="1"/>
<rect x="1453" y="677" width="2" height="1"/>
<rect x="1453" y="605" width="1" height="1"/>
<rect x="5" y="785" width="1" height="3"/>
<rect x="133" y="785" width="1" height="3"/>
<rect x="261" y="785" width="1" height="3"/>
<rect x="389" y="785" width="1" height="3"/>
<rect x="517" y="785" width="1" height="3"/>
<rect x="645" y="785" width="1" height="3"/>
<rect x="773" y="785" width="1" height="3"/>
<rect x="901" y="785" width="1" height="3"/>
<rect x="1029" y="785" width="1" height="3"/>
</g>
<polygon points="1154,5 1169.5,5 1161.7,12.8" fill="#778899"/>
<polygon points="8,12 19,12 13.5,18" fill="#000"/>
<text y="21"><tspan x="25.4" textLength="72.6" lengthAdjust="spacingAndGlyphs">JPN225-,H4</tspan> <tspan x="107.2" textLength="51" lengthAdjust="spacingAndGlyphs">31925.6</tspan> <tspan x="163.3" textLength="51" lengthAdjust="spacingAndGlyphs">31935.9</tspan> <tspan x="219.4" textLength="51" lengthAdjust="spacingAndGlyphs">31916.2</tspan> <tspan x="275.5" textLength="51" lengthAdjust="spacingAndGlyphs">31918.4</tspan></text>
<text y="620.5"><tspan x="9.5" textLength="36" lengthAdjust="spacingAndGlyphs">MACD</tspan><tspan x="46.6" textLength="57.4" lengthAdjust="spacingAndGlyphs">(12,26,9)</tspan> <tspan x="108.6" textLength="40.1" lengthAdjust="spacingAndGlyphs">-88.04</tspan> <tspan x="153.9" textLength="39.5" lengthAdjust="spacingAndGlyphs">-31.25</tspan></text>
<text x="1459.5" y="52" textLength="51.5" lengthAdjust="spacing">33418.0</text>
<text x="1459.5" y="117" textLength="51.5" lengthAdjust="spacing">33205.0</text>
<text x="1459.5" y="182" textLength="51.5" lengthAdjust="spacing">32992.0</text>
<text x="1459.5" y="247" textLength="51.5" lengthAdjust="spacing">32779.0</text>
<text x="1459.5" y="312" textLength="51.5" lengthAdjust="spacing">32566.0</text>
<text x="1459.5" y="377" textLength="51.5" lengthAdjust="spacing">32353.0</text>
<text x="1459.5" y="442" textLength="51.5" lengthAdjust="spacing">32140.0</text>
<text x="1459.5" y="572" textLength="51.5" lengthAdjust="spacing">31717.0</text>
<rect x="1454" y="443" width="62" height="17" fill="#000"/><text x="1459.5" y="457" fill="#fff" style="fill:#fff;stroke:#fff" textLength="51.5">32100.0</text>
<rect x="1454" y="496" width="62" height="17" fill="#000"/><text x="1459.5" y="510" style="fill:#fff;stroke:#fff" textLength="51.5">31918.4</text>
<rect x="1454" y="534" width="62" height="17" fill="#0000cd"/><text x="1459.5" y="547.5" style="fill:#fff;stroke:#fff" textLength="51.5">31800.0</text>
<text x="1456.3" y="619" textLength="43.2">204.29</text>
<text x="1456.3" y="683" textLength="27.5">0.00</text>
<text x="1456.3" y="780" textLength="48">-299.75</text>
<text x="4.5" y="802" textLength="71.3" lengthAdjust="spacingAndGlyphs">12 Jul 2023</text>
<text x="132.5" y="802" textLength="76.5" lengthAdjust="spacingAndGlyphs">17 Jul 14:55</text>
<text x="260.5" y="802" textLength="77" lengthAdjust="spacingAndGlyphs">20 Jul 04:00</text>
<text x="388.5" y="802" textLength="76.7" lengthAdjust="spacingAndGlyphs">24 Jul 23:30</text>
<text x="516.5" y="802" textLength="76.4" lengthAdjust="spacingAndGlyphs">27 Jul 14:55</text>
<text x="644.5" y="802" textLength="76.9" lengthAdjust="spacingAndGlyphs">1 Aug 04:00</text>
<text x="772.5" y="802" textLength="76.9" lengthAdjust="spacingAndGlyphs">3 Aug 23:30</text>
<text x="900.5" y="802" textLength="76.9" lengthAdjust="spacingAndGlyphs">8 Aug 14:55</text>
<text x="1028.5" y="802" textLength="84.4" lengthAdjust="spacingAndGlyphs">11 Aug 04:00</text>
</svg></body></html>
